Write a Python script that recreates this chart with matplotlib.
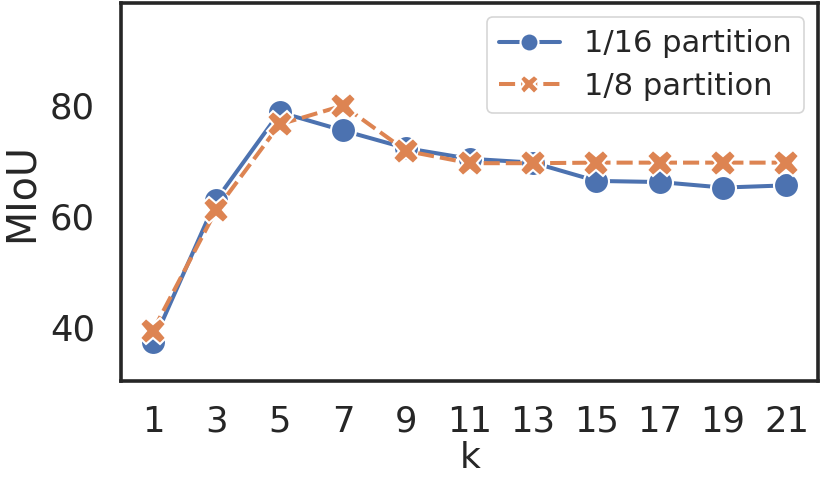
import matplotlib
matplotlib.use("Agg")
import matplotlib.pyplot as plt
import seaborn as sns

# -- data --------------------------------------------------------------------
k_values = [1, 3, 5, 7, 9, 11, 13, 15, 17, 19, 21]
miou_16 = [37.2, 62.9, 78.7, 75.4, 72.2, 70.3, 69.6, 66.3, 66.1, 65.1, 65.5]
miou_8 = [39.3, 61.1, 76.5, 79.9, 71.7, 69.5, 69.5, 69.6, 69.6, 69.6, 69.6]
series_labels = ["1/16 partition", "1/8 partition"]

BLUE = "#4C72B0"
ORANGE = "#DD8452"
DARK = "#262626"

sns.set_theme(style="white")
plt.rcParams["font.family"] = ["DejaVu Sans"]

fig = plt.figure(figsize=(8.22, 4.84), dpi=100)
ax = fig.add_axes([0.1476, 0.2128, 0.8476, 0.7804])

ax.plot(k_values, miou_16, color=BLUE, lw=2.9, ls="-",
        marker="o", ms=18, mec="white", mew=1.5, label=series_labels[0])
ax.plot(k_values, miou_8, color=ORANGE, lw=2.9, ls=(0, (4, 1.5)),
        marker="X", ms=19, mec="white", mew=1.5, label=series_labels[1])

ax.set_xlim(0, 22)
ax.set_ylim(30.2, 98.35)
ax.set_xticks(k_values)
ax.set_yticks([40, 60, 80])
ax.tick_params(axis="both", labelsize=25.5, colors=DARK, length=0)
ax.tick_params(axis="x", pad=17)
ax.tick_params(axis="y", pad=19)
ax.set_xlabel("k", fontsize=26, color=DARK, labelpad=2)
ax.set_ylabel("MIoU", fontsize=28.5, color=DARK, labelpad=6)

for sp in ax.spines.values():
    sp.set_color(DARK)
    sp.set_linewidth(2.6)

leg = ax.legend(loc="upper right", fontsize=22, frameon=True,
                markerscale=0.72, handlelength=2.0, borderpad=0.4,
                labelspacing=0.45, handletextpad=0.8, borderaxespad=0.45)
leg.get_frame().set_edgecolor("#cccccc")
leg.get_frame().set_linewidth(1.2)
for t in leg.get_texts():
    t.set_color(DARK)

fig.savefig("out.png", dpi=100)
